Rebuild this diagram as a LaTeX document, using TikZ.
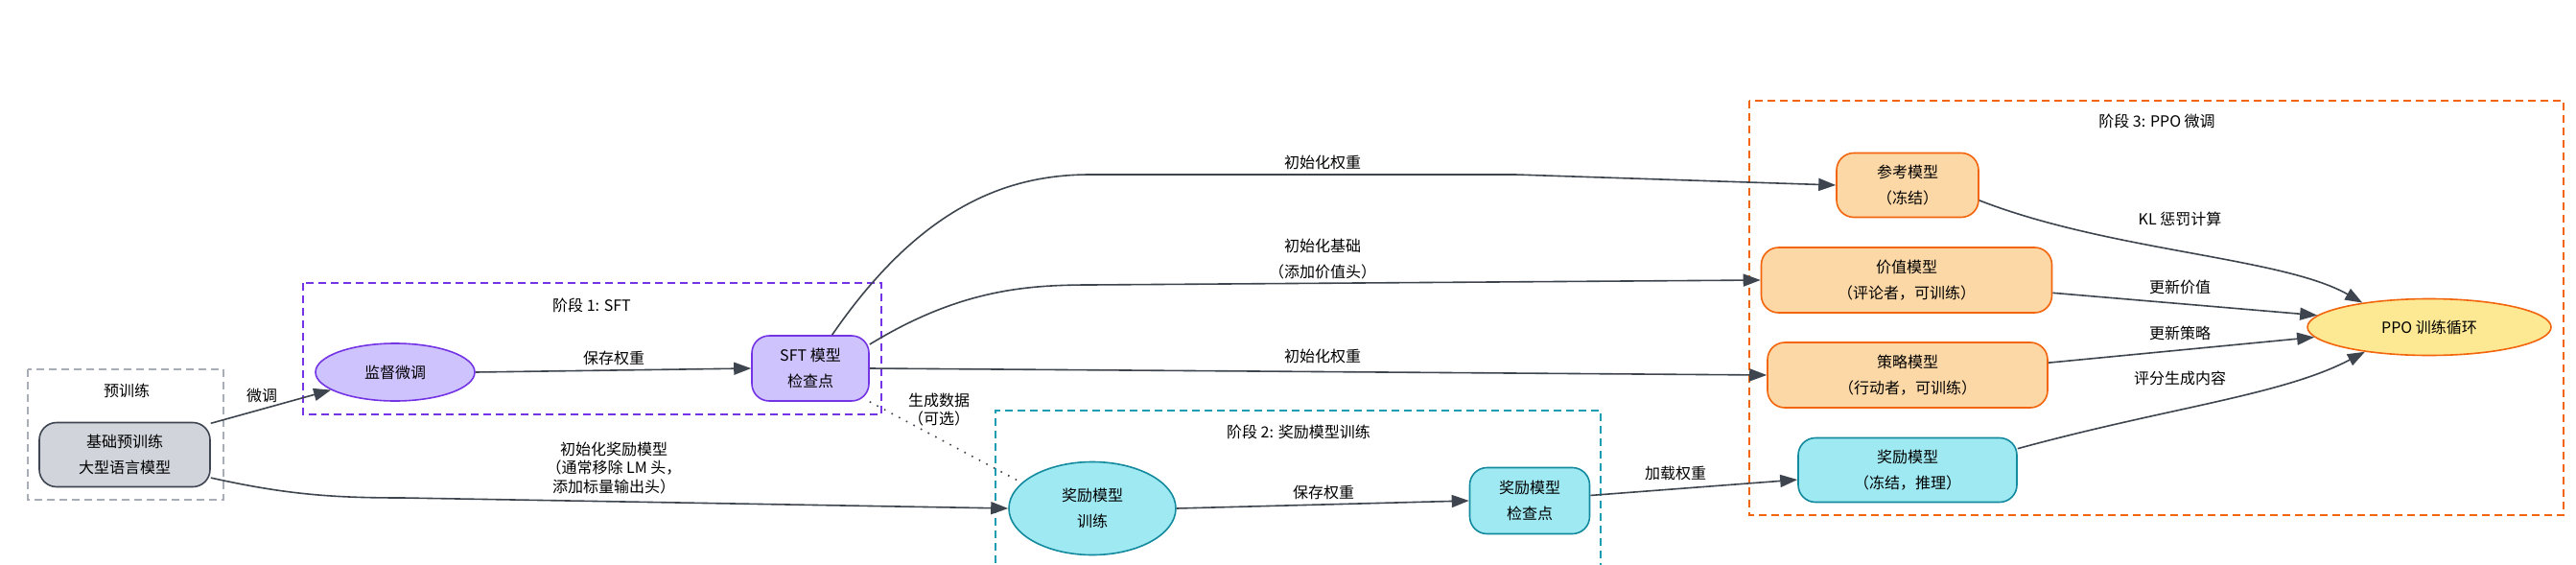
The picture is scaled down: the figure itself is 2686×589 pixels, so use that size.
\documentclass[tikz,border=0pt]{standalone}
\usepackage{fontspec}
\setmainfont{Noto Sans CJK SC}
\usetikzlibrary{arrows.meta,shapes.geometric}
\definecolor{edgeC}{HTML}{3E454F}
\definecolor{grayF}{HTML}{D1D5DB}
\definecolor{grayS}{HTML}{3F4652}
\definecolor{grayD}{HTML}{A9AEB6}
\definecolor{purF}{HTML}{CFC3FD}
\definecolor{purS}{HTML}{7434E6}
\definecolor{cyaF}{HTML}{9FE9F2}
\definecolor{cyaS}{HTML}{138A9E}
\definecolor{cyaD}{HTML}{1A9CB2}
\definecolor{orgF}{HTML}{FDD8A7}
\definecolor{orgS}{HTML}{F2650C}
\definecolor{ylwF}{HTML}{FDE994}
\tikzset{
  txt/.style={font=\fontsize{16}{27}\selectfont, align=center, inner sep=0pt},
  lbl/.style={txt},
  lbltight/.style={font=\fontsize{16}{19.5}\selectfont, align=center, inner sep=0pt},
  box/.style={txt, rectangle, rounded corners=18pt, line width=1.6pt},
  oval/.style={txt, ellipse, line width=1.6pt},
  grayn/.style={box, draw=grayS, fill=grayF},
  purn/.style={draw=purS, fill=purF},
  cyan/.style={draw=cyaS, fill=cyaF},
  orgn/.style={draw=orgS, fill=orgF},
  cluster/.style={line width=1.6pt, dash pattern=on 8pt off 5pt},
  edge/.style={draw=edgeC, line width=1.6pt, -{Triangle[length=18pt,width=13pt]}},
  dotedge/.style={draw=edgeC, line width=1.6pt, dash pattern=on 1.6pt off 7pt},
}
\begin{document}
\begin{tikzpicture}[x=1pt,y=-1pt]
\useasboundingbox[fill=white] (0,0) rectangle (2686,589);

% clusters
\draw[cluster, draw=grayD] (29,385) rectangle (233,521);
\node[txt] (lpre) at (132,407) {预训练};
\draw[cluster, draw=purS] (316,295) rectangle (919,432);
\node[txt] (l1) at (617,318) {阶段 1: SFT};
\draw[cluster, draw=cyaD] (1038,600) -- (1038,428) -- (1669,428) -- (1669,600);
\node[txt] (l2) at (1354,450) {阶段 2: 奖励模型训练};
\draw[cluster, draw=orgS] (1824,105) rectangle (2673,537);
\node[txt] (l3) at (2249,126) {阶段 3: PPO 微调};

% nodes
\node[grayn, minimum width=178pt, minimum height=67pt] (base) at (130,474) {基础预训练\\大型语言模型};
\node[oval, purn, minimum width=166pt, minimum height=60pt] (sft) at (412,388) {监督微调};
\node[box, purn, minimum width=122pt, minimum height=68pt] (sftck) at (845,384) {SFT 模型\\检查点};
\node[oval, cyan, minimum width=174pt, minimum height=97pt] (rmtr) at (1139,530) {奖励模型\\训练};
\node[box, cyan, minimum width=125pt, minimum height=69pt] (rmck) at (1595,522) {奖励模型\\检查点};
\node[box, orgn, minimum width=148pt, minimum height=67pt] (ref) at (1989,193) {参考模型\\（冻结）};
\node[box, orgn, minimum width=303pt, minimum height=68pt] (val) at (1988,292) {价值模型\\（评论者，可训练）};
\node[box, orgn, minimum width=292pt, minimum height=68pt] (pol) at (1989,391) {策略模型\\（行动者，可训练）};
\node[box, cyan, minimum width=228pt, minimum height=67pt] (rew) at (1989,490) {奖励模型\\（冻结，推理）};
\node[oval, draw=orgS, fill=ylwF, minimum width=254pt, minimum height=59pt] (ppo) at (2533,341) {PPO 训练循环};

% edges
\draw[edge] (base.20) -- (sft);
\node[lbl] (e1) at (273,412) {微调};
\draw[edge] (sft.east) -- (sftck.west);
\node[lbl] (e2) at (640,373) {保存权重};
\draw[edge] (base.-15) .. controls (300,516) and (350,519) .. (420,519) -- (rmtr.west);
\node[lbltight] (e3) at (640,488) {初始化奖励模型\\（通常移除 LM 头，\\添加标量输出头）};
\draw[dotedge] (sftck.south east) -- (rmtr.160);
\node[lbltight] (e4) at (979,427) {生成数据\\（可选）};
\draw[edge] (sftck.57) .. controls (960,215) and (1050,182) .. (1137,182) -- (1580,182) -- (ref.west);
\node[lbl] (e5) at (1379,169) {初始化权重};
\draw[edge] (sftck.22) .. controls (1000,302) and (1070,297) .. (1137,297) -- (val.west);
\node[lbl] (e6) at (1379,270) {初始化基础\\（添加价值头）};
\draw[edge] (sftck.east) -- (pol.west);
\node[lbl] (e7) at (1379,371) {初始化权重};
\draw[edge] (rmtr.east) -- (rmck.west);
\node[lbl] (e8) at (1380,513) {保存权重};
\draw[edge] (rmck.5) -- (rew.185);
\node[lbl] (e9) at (1747,493) {加载权重};
\draw[edge] (ref.-12) .. controls (2200,262) and (2380,268) .. (ppo.160);
\node[lbl] (e10) at (2273,228) {KL 惩罚计算};
\draw[edge] (val.-5) -- (ppo.174);
\node[lbl] (e11) at (2273,299) {更新价值};
\draw[edge] (pol.5) -- (ppo.185);
\node[lbl] (e12) at (2273,347) {更新策略};
\draw[edge] (rew.11) .. controls (2260,425) and (2380,412) .. (ppo.201);
\node[lbl] (e13) at (2273,394) {评分生成内容};
\end{tikzpicture}
\end{document}
